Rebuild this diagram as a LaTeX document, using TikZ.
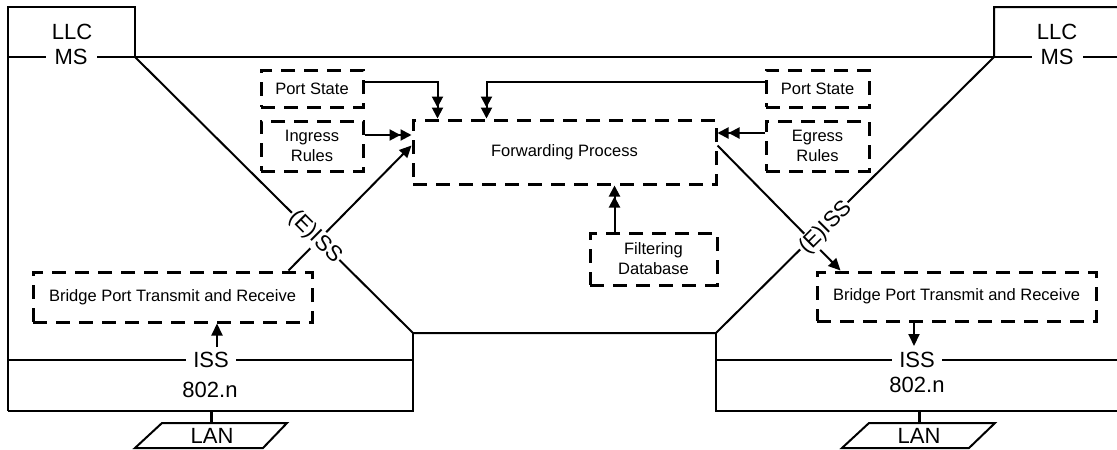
\documentclass[tikz,border=0pt]{standalone}
\usepackage{fontspec}
\setmainfont{Liberation Sans}
\usetikzlibrary{arrows.meta,calc}
\begin{document}
\begin{tikzpicture}[x=1pt,y=-1pt,
  line/.style={line width=2pt, line join=miter},
  dbox/.style={draw, line width=3pt, dash pattern=on 14pt off 9pt, align=center, inner sep=0pt,
    font=\fontsize{16.5}{20}\selectfont},
  big/.style={font=\fontsize{22}{26}\selectfont, inner sep=0pt},
  gap/.style={big, fill=white, inner xsep=7pt, inner ysep=1pt},
  dbl/.style={line width=2pt, -{Triangle[length=11pt,width=11pt]Triangle[length=11pt,width=11pt]}},
  sarr/.style={line width=2pt, -{Triangle[length=12pt,width=11pt]}},
]
\useasboundingbox[fill=white] (0,0) rectangle (1117,450);

% ---------- structure ----------
\draw[line] (8,411) -- (8,7) -- (135,7) -- (135,57);
\draw[line] (8,57) -- (1117,57);
\draw[line] (135,57) -- (413,333) -- (716,333) -- (994,57) -- (994,7) -- (1117,7);
\draw[line] (413,333) -- (413,411) -- (8,411);
\draw[line] (8,360) -- (413,360);
\draw[line] (716,333) -- (716,411) -- (1117,411);
\draw[line] (716,360) -- (1117,360);

% ---------- dashed boxes ----------
\node[dbox, minimum width=102, minimum height=37] (psL) at (312,88.5) {Port State};
\node[dbox, minimum width=102, minimum height=50] (ing) at (312,146) {Ingress\\Rules};
\node[dbox, minimum width=103, minimum height=37] (psR) at (817.5,88.5) {Port State};
\node[dbox, minimum width=103, minimum height=50] (eg) at (817.5,146) {Egress\\Rules};
\node[dbox, minimum width=303, minimum height=64] (fp) at (564.5,152) {Forwarding Process};
\node[dbox, minimum width=127, minimum height=52] (fdb) at (653.5,259) {Filtering\\Database};
\node[dbox, minimum width=279, minimum height=50] (bpL) at (172.5,297) {Bridge Port Transmit and Receive};
\node[dbox, minimum width=279, minimum height=49] (bpR) at (956.5,296.5) {Bridge Port Transmit and Receive};

% ---------- connectors ----------
\draw[dbl] ([yshift=6.5pt]psL.east) -| ([xshift=26pt]fp.north west);
\draw[dbl] ([yshift=6.5pt]psR.west) -| ([xshift=75pt]fp.north west);
\coordinate (ingA) at ([yshift=11pt]ing.east);
\draw[dbl] (ingA) -- (ingA -| fp.west);
\coordinate (egA) at ([yshift=13pt]eg.west);
\draw[dbl] (egA) -- (egA -| fp.east);
\coordinate (fdbA) at ([xshift=26pt]fdb.north west);
\draw[dbl] (fdbA) -- (fdbA |- fp.south);
\draw[sarr] ([xshift=-25pt]bpL.north east) -- ([yshift=-27pt]fp.north west);
\draw[sarr] ([yshift=-27pt]fp.north east) -- ([xshift=25pt]bpR.north west);
\coordinate (aL) at (217,347);
\draw[sarr] (aL) -- (aL |- bpL.south);
\coordinate (aR) at (914,346);
\draw[sarr] (aR |- bpR.south) -- (aR);

% ---------- labels ----------
\node[big] (llcL) at (72,32) {LLC};
\node[gap, inner xsep=9pt] (msL) at (71,57) {MS};
\node[big] (llcR) at (1057,32) {LLC};
\node[gap, inner xsep=9pt] (msR) at (1057,57) {MS};
\node[gap] (issL) at (211,360) {ISS};
\node[gap] (issR) at (917,360) {ISS};
\node[big] (nL) at (210,390) {802.n};
\node[big] (nR) at (917,385) {802.n};
\node[big, fill=white, inner sep=1pt, rotate=-45] (eissL) at (315,237) {(E)ISS};
\node[big, fill=white, inner sep=1pt, rotate=45] (eissR) at (826,228) {(E)ISS};

% ---------- LANs ----------
\node[big] (lanL) at (212,436) {LAN};
\draw[line] (135,448) -- (162,423) -- (287,423) -- (263,448) -- cycle;
\coordinate (dL) at (211,411);
\draw[line, line width=3pt] (dL) -- (211,423);
\node[big] (lanR) at (919,436) {LAN};
\draw[line] (842,448) -- (869,423) -- (995,423) -- (969,448) -- cycle;
\coordinate (dR) at (919,411);
\draw[line, line width=3pt] (dR) -- (919,423);
\end{tikzpicture}
\end{document}
